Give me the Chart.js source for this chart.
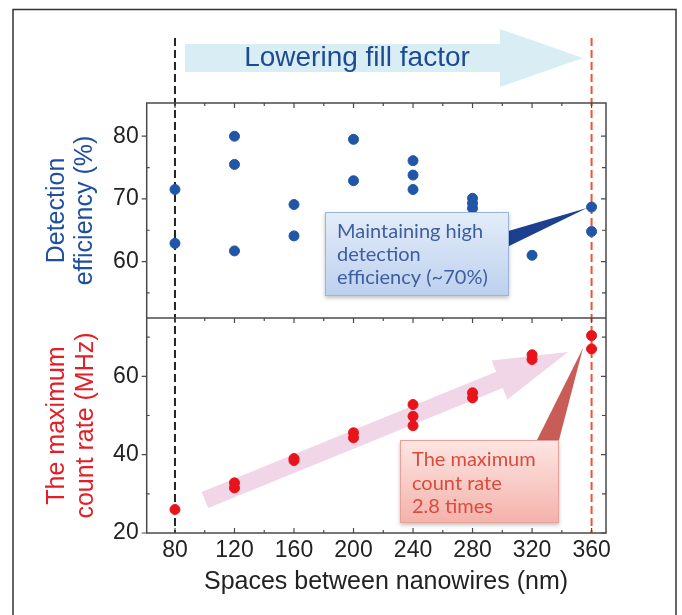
<!DOCTYPE html>
<html lang="en">
<head>
    <meta charset="UTF-8">
    <title>Spaces between nanowires</title>
    <script src="https://cdn.jsdelivr.net/npm/chart.js"></script>
    <style>
        body { margin: 0; background: #fff; }
    </style>
</head>
<body>
    <div style="width: 682px; height: 615px">
        <canvas id="myChart" width="682" height="615"></canvas>
    </div>

    <script>
        // data
        const xTicks = [80, 120, 160, 200, 240, 280, 320, 360];
        const effTicks = [60, 70, 80];
        const rateTicks = [20, 40, 60];

        // detection efficiency (%)
        const effX = [80, 80, 120, 120, 120, 160, 160, 200, 200, 240, 240, 240, 280, 280, 280, 320, 360, 360];
        const effY = [71.5, 62.9, 80.0, 75.5, 61.7, 69.1, 64.1, 79.5, 72.9, 76.1, 73.8, 71.5, 70.1, 69.3, 68.5, 61.0, 68.7, 64.8];

        // maximum count rate (MHz)
        const rateX = [80, 120, 120, 160, 160, 200, 200, 240, 240, 240, 280, 280, 320, 320, 360, 360];
        const rateY = [26.0, 32.8, 31.5, 39.0, 38.5, 45.6, 44.3, 52.8, 49.8, 47.4, 55.8, 54.5, 65.5, 64.3, 70.4, 67.0];

        const FONT = "'Liberation Sans', Arial, sans-serif";
        const BOX_FONT = "Lato, 'Open Sans', sans-serif";

        function toPoints(xs, ys) {
            return xs.map((x, i) => ({ x: x, y: ys[i] }));
        }

        function setTicks(values) {
            return function (scale) {
                scale.ticks = values.map(v => ({ value: v }));
            };
        }

        // arrows, callouts, frame etc.
        const decorations = {
            id: 'decorations',
            beforeDatasetsDraw(chart) {
                const ctx = chart.ctx;
                const x = chart.scales.x;
                const area = chart.chartArea;

                ctx.save();
                // outer frame of the figure
                ctx.strokeStyle = '#333';
                ctx.lineWidth = 1.5;
                ctx.beginPath();
                ctx.moveTo(13, 620);
                ctx.lineTo(13, 9.5);
                ctx.lineTo(676, 9.5);
                ctx.lineTo(676, 620);
                ctx.stroke();

                // "Lowering fill factor" arrow
                ctx.fillStyle = '#d8eef4';
                ctx.beginPath();
                ctx.moveTo(185, 44);
                ctx.lineTo(500, 44);
                ctx.lineTo(500, 29);
                ctx.lineTo(583, 58);
                ctx.lineTo(500, 87);
                ctx.lineTo(500, 72);
                ctx.lineTo(185, 72);
                ctx.closePath();
                ctx.fill();
                ctx.fillStyle = '#1d4a93';
                ctx.font = '28px ' + FONT;
                ctx.textAlign = 'center';
                ctx.textBaseline = 'middle';
                ctx.fillText('Lowering fill factor', 357, 58);

                // pink arrow in lower panel
                const tail = { x: 205, y: 500 };
                const tip = { x: 568, y: 352 };
                const len = Math.hypot(tip.x - tail.x, tip.y - tail.y);
                const ux = (tip.x - tail.x) / len, uy = (tip.y - tail.y) / len;
                const nx = -uy, ny = ux;
                const bw = 8.75, hw = 21, hl = 74;
                const bx = tip.x - ux * hl, by = tip.y - uy * hl;
                ctx.fillStyle = '#f0d6e7';
                ctx.beginPath();
                ctx.moveTo(tail.x + nx * bw, tail.y + ny * bw);
                ctx.lineTo(bx + nx * bw, by + ny * bw);
                ctx.lineTo(bx + nx * hw, by + ny * hw);
                ctx.lineTo(tip.x, tip.y);
                ctx.lineTo(bx - nx * hw, by - ny * hw);
                ctx.lineTo(bx - nx * bw, by - ny * bw);
                ctx.lineTo(tail.x - nx * bw, tail.y - ny * bw);
                ctx.closePath();
                ctx.fill();

                // dashed guide lines at 80 and 360 nm
                ctx.lineWidth = 2;
                ctx.setLineDash([8, 4]);
                ctx.strokeStyle = '#222';
                ctx.beginPath();
                ctx.moveTo(x.getPixelForValue(xTicks[0]), 38);
                ctx.lineTo(x.getPixelForValue(xTicks[0]), area.bottom);
                ctx.stroke();
                ctx.strokeStyle = '#f0532d';
                ctx.beginPath();
                ctx.moveTo(x.getPixelForValue(xTicks[xTicks.length - 1]), 38);
                ctx.lineTo(x.getPixelForValue(xTicks[xTicks.length - 1]), area.bottom);
                ctx.stroke();
                ctx.restore();
            },
            afterDatasetsDraw(chart) {
                const ctx = chart.ctx;
                const x = chart.scales.x;
                const yT = chart.scales.yTop;
                const yB = chart.scales.yBot;
                const { left, right, top, bottom } = chart.chartArea;
                const mid = yB.top;

                ctx.save();
                // plot frame
                ctx.strokeStyle = '#4a4a4a';
                ctx.lineWidth = 1.5;
                ctx.strokeRect(left, top, right - left, bottom - top);
                ctx.beginPath();
                ctx.moveTo(left, mid);
                ctx.lineTo(right, mid);
                ctx.stroke();

                // tick marks
                ctx.lineWidth = 1.2;
                ctx.beginPath();
                xTicks.forEach((v, i) => {
                    const px = x.getPixelForValue(v);
                    [[top, 5], [mid, 5], [bottom, -5]].forEach(([y0, d]) => {
                        ctx.moveTo(px, y0); ctx.lineTo(px, y0 + d);
                    });
                    if (i < xTicks.length - 1) {
                        const pm = x.getPixelForValue(v + 20);
                        [[top, 3], [mid, 3], [bottom, -3]].forEach(([y0, d]) => {
                            ctx.moveTo(pm, y0); ctx.lineTo(pm, y0 + d);
                        });
                    }
                });
                const yTicks = (scale, major, minor) => {
                    major.forEach(v => {
                        const py = scale.getPixelForValue(v);
                        ctx.moveTo(left - 5, py); ctx.lineTo(left, py);
                        ctx.moveTo(right - 5, py); ctx.lineTo(right, py);
                    });
                    minor.forEach(v => {
                        const py = scale.getPixelForValue(v);
                        ctx.moveTo(left, py); ctx.lineTo(left + 3, py);
                        ctx.moveTo(right - 4, py); ctx.lineTo(right, py);
                    });
                };
                yTicks(yT, effTicks, effTicks.map(v => v - 5));
                yTicks(yB, rateTicks, rateTicks.map(v => v + 10));
                ctx.stroke();

                // axis titles
                ctx.textAlign = 'center';
                ctx.textBaseline = 'middle';
                ctx.font = '25px ' + FONT;
                const vTitle = (lines, cx, cy, color) => {
                    ctx.save();
                    ctx.fillStyle = color;
                    lines.forEach((t, i) => {
                        ctx.save();
                        ctx.translate(cx[i], cy);
                        ctx.rotate(-Math.PI / 2);
                        ctx.fillText(t, 0, 0);
                        ctx.restore();
                    });
                    ctx.restore();
                };
                vTitle(['Detection', 'efficiency (%)'], [57, 85], (top + mid) / 2, '#1f4fa0');
                vTitle(['The maximum', 'count rate (MHz)'], [57, 86], (mid + bottom) / 2, '#e41e26');
                ctx.fillStyle = '#222';
                ctx.fillText('Spaces between nanowires (nm)', 386, 582);

                // callout: detection efficiency
                ctx.fillStyle = '#1c3f8f';
                ctx.beginPath();
                ctx.moveTo(505, 232);
                ctx.lineTo(587, 208);
                ctx.lineTo(505, 248);
                ctx.closePath();
                ctx.fill();
                callout(ctx, 325, 212, 184, 84, '#e4edf9', '#bcd0ee', '#9ab5dc');
                ctx.fillStyle = '#3d5ea0';
                ctx.font = '20px ' + BOX_FONT;
                ctx.textAlign = 'left';
                ['Maintaining high', 'detection', 'efficiency (~70%)'].forEach((t, i) => {
                    ctx.fillText(t, 337, 232 + i * 23);
                });

                // callout: count rate
                ctx.fillStyle = '#c85d57';
                ctx.beginPath();
                ctx.moveTo(535, 444);
                ctx.lineTo(583, 348);
                ctx.lineTo(558, 444);
                ctx.closePath();
                ctx.fill();
                callout(ctx, 400, 440, 159, 83, '#fde6e3', '#f4b2ab', '#e8a098');
                ctx.fillStyle = '#dc4a3c';
                ['The maximum', 'count rate', '2.8 times'].forEach((t, i) => {
                    ctx.fillText(t, 412, 460 + i * 23.5);
                });
                ctx.restore();
            }
        };

        function callout(ctx, bx, by, w, h, c1, c2, border) {
            ctx.save();
            ctx.shadowColor = 'rgba(0,0,0,0.25)';
            ctx.shadowBlur = 4;
            ctx.shadowOffsetY = 2;
            const g = ctx.createLinearGradient(0, by, 0, by + h);
            g.addColorStop(0, c1);
            g.addColorStop(1, c2);
            ctx.fillStyle = g;
            ctx.fillRect(bx, by, w, h);
            ctx.restore();
            ctx.strokeStyle = border;
            ctx.lineWidth = 1;
            ctx.strokeRect(bx + 0.5, by + 0.5, w - 1, h - 1);
        }

        const config = {
            type: 'scatter',
            data: {
                datasets: [
                    {
                        label: 'Detection efficiency',
                        data: toPoints(effX, effY),
                        yAxisID: 'yTop',
                        backgroundColor: '#2156a6',
                        borderColor: '#2156a6',
                        pointRadius: 5
                    },
                    {
                        label: 'Maximum count rate',
                        data: toPoints(rateX, rateY),
                        yAxisID: 'yBot',
                        backgroundColor: '#e8141c',
                        borderColor: '#e8141c',
                        pointRadius: 5
                    }
                ]
            },
            options: {
                responsive: false,
                animation: false,
                layout: { padding: { top: 103, right: 76, bottom: 0, left: 0 } },
                plugins: {
                    legend: { display: false },
                    tooltip: { enabled: false }
                },
                scales: {
                    x: {
                        type: 'linear',
                        min: 61,
                        max: 369.7,
                        afterBuildTicks: setTicks(xTicks),
                        afterFit: s => { s.height = 82; },
                        grid: { display: false, drawTicks: false },
                        border: { display: false },
                        ticks: { font: { size: 23, family: FONT }, color: '#222', padding: 4 }
                    },
                    // stacked axes are laid out bottom-up, so the lower panel comes first
                    yBot: {
                        type: 'linear',
                        position: 'left',
                        stack: 'panels',
                        stackWeight: 1,
                        min: 20,
                        max: 74.9,
                        afterBuildTicks: setTicks(rateTicks),
                        afterFit: s => { s.width = 146.7; },
                        grid: { display: false, drawTicks: false },
                        border: { display: false },
                        ticks: { font: { size: 23, family: FONT }, color: '#222', padding: 8 }
                    },
                    yTop: {
                        type: 'linear',
                        position: 'left',
                        stack: 'panels',
                        stackWeight: 1,
                        min: 51,
                        max: 85.3,
                        afterBuildTicks: setTicks(effTicks),
                        afterFit: s => { s.width = 146.7; },
                        grid: { display: false, drawTicks: false },
                        border: { display: false },
                        ticks: { font: { size: 23, family: FONT }, color: '#222', padding: 8 }
                    }
                }
            },
            plugins: [decorations]
        };

        const ctx = document.getElementById('myChart').getContext('2d');
        const chart = new Chart(ctx, config);
    </script>
</body>
</html>
